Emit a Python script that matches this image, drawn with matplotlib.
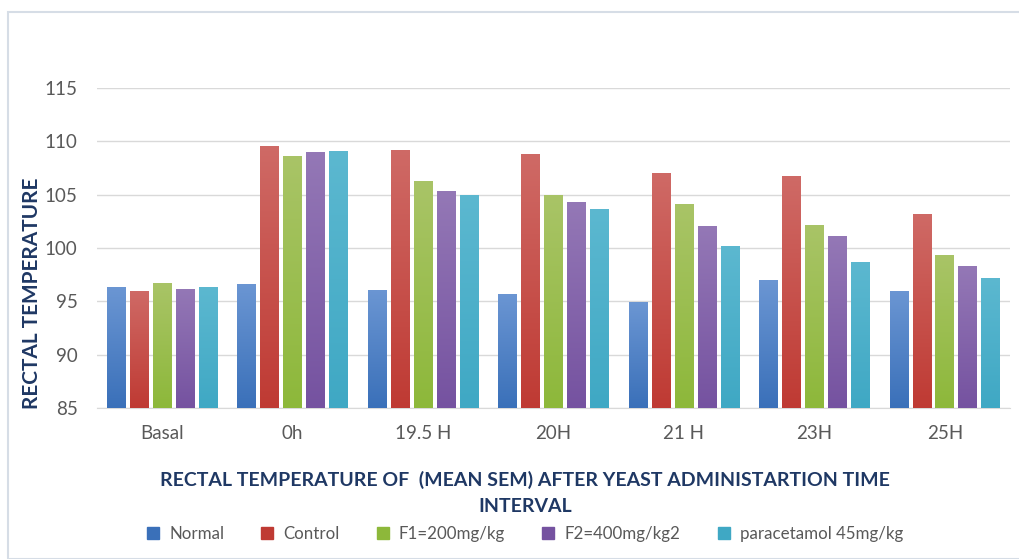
import numpy as np
import matplotlib
matplotlib.use("Agg")
import matplotlib.pyplot as plt
from matplotlib.colors import LinearSegmentedColormap, to_rgb
from matplotlib.patches import Rectangle

plt.rcParams['font.family'] = ['Lato', 'DejaVu Sans']

# time points and groups
times = ['Basal', '0h', '19.5 H', '20H', '21 H', '23H', '25H']
groups = ['Normal', 'Control', 'F1=200mg/kg', 'F2=400mg/kg2', 'paracetamol 45mg/kg']

normal = [96.3, 96.65, 96.1, 95.7, 94.9, 97.0, 96.0]
control = [96.0, 109.6, 109.2, 108.8, 107.05, 106.75, 103.2]
f1 = [96.75, 108.6, 106.25, 104.95, 104.1, 102.15, 99.3]
f2 = [96.2, 109.0, 105.3, 104.3, 102.05, 101.1, 98.3]
para = [96.3, 109.1, 105.0, 103.7, 100.2, 98.7, 97.2]

series = [normal, control, f1, f2, para]
# (top colour, bottom colour) for the gradient look
colors = [('#6b96d3', '#3a70b9'), ('#cf6a66', '#bf3a33'), ('#a9c467', '#8db83a'),
          ('#9478b6', '#7552a0'), ('#5cb8d0', '#3fa8c4')]

fig = plt.figure(figsize=(10.2, 5.59), dpi=100)
ax = fig.add_axes([97 / 1020, 1 - 408 / 559, 913 / 1020, 320 / 559])

x = np.arange(len(times))
width = 0.143
step = 0.176
for i, (vals, (ctop, cbot)) in enumerate(zip(series, colors)):
    pos = x + (i - 2) * step
    bars = ax.bar(pos, np.array(vals) - 85, width, bottom=85, color=cbot,
                  label=groups[i], zorder=2)
    cmap = LinearSegmentedColormap.from_list('g%d' % i, [to_rgb(cbot), to_rgb(ctop)])
    grad = np.linspace(0, 1, 256).reshape(-1, 1)
    for b in bars:
        bx, by = b.get_x(), b.get_y()
        bw, bh = b.get_width(), b.get_height()
        im = ax.imshow(grad, cmap=cmap, origin='lower', aspect='auto',
                       extent=[bx, bx + bw, by, by + bh], zorder=3)
        im.set_clip_path(b)

ax.set_xlim(-0.5, len(times) - 0.5)
ax.set_ylim(85, 115)
ax.set_yticks(range(85, 116, 5))
ax.set_xticks(x)
ax.set_xticklabels(times)
ax.tick_params(axis='both', length=0, labelsize=13.5, colors='#595959', pad=12)
ax.tick_params(axis='y', pad=14)
ax.grid(axis='y', color='#d9d9d9', linewidth=1, zorder=0)
ax.set_axisbelow(True)
for s in ['top', 'right', 'left']:
    ax.spines[s].set_visible(False)
ax.spines['bottom'].set_color('#d9d9d9')

fig.text(32 / 1020, 1 - 293 / 559, 'RECTAL TEMPERATURE', rotation=90, ha='center',
         va='center', fontsize=15, fontweight='bold', color='#1f3864')
fig.text(525 / 1020, 1 - 480 / 559,
         'RECTAL TEMPERATURE OF  (MEAN SEM) AFTER YEAST ADMINISTARTION TIME',
         ha='center', va='center', fontsize=14, fontweight='bold', color='#1f3864')
fig.text(525 / 1020, 1 - 507 / 559, 'INTERVAL', ha='center', va='center',
         fontsize=14, fontweight='bold', color='#1f3864')

handles = [Rectangle((0, 0), 1, 1, color=c[1]) for c in colors]
fig.legend(handles, groups, loc='center', bbox_to_anchor=(525 / 1020, 1 - 534 / 559),
           ncol=5, frameon=False, fontsize=12.2, handlelength=0.7, handleheight=0.7,
           handletextpad=0.6, columnspacing=2.2, labelcolor='#595959')

# outer chart border
fig.patches.append(Rectangle((8 / 1020, 0), 1.1, 1 - 12 / 559, transform=fig.transFigure,
                             fill=False, edgecolor='#d6dde6', linewidth=1.5))

fig.savefig('out.png', dpi=100)
